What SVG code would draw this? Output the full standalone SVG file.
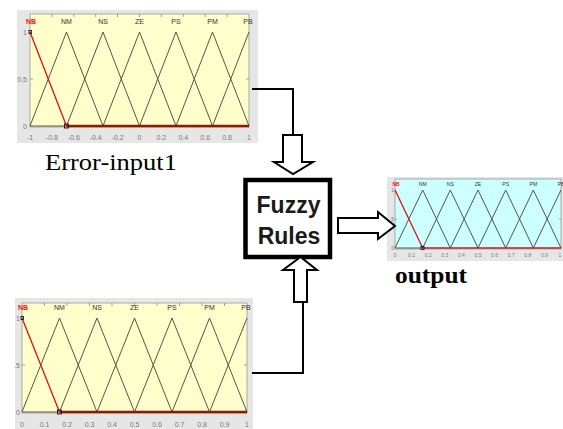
<svg xmlns="http://www.w3.org/2000/svg" width="563" height="429" viewBox="0 0 563 429">
<style>
.frame{fill:#e6e6e6}
.yel{fill:#ffffcc;stroke:#9a9a9a;stroke-width:0.8}
.cyan{fill:#ccffff;stroke:#9a9a9a;stroke-width:0.8}
.mf{fill:none;stroke:#555548;stroke-width:1}
.nb{fill:none;stroke:#e01010;stroke-width:1.3}
.base{stroke:#8b1a00;stroke-width:2.5}
.tk{font-family:"Liberation Sans",Arial,sans-serif;font-size:7px;fill:#7a7a7a;text-anchor:middle}
.tks{font-family:"Liberation Sans",Arial,sans-serif;font-size:5px;fill:#7a7a7a;text-anchor:middle}
.yl{font-family:"Liberation Sans",Arial,sans-serif;font-size:7px;fill:#7a7a7a;text-anchor:end}
.yls{font-family:"Liberation Sans",Arial,sans-serif;font-size:5px;fill:#7a7a7a;text-anchor:end}
.lab{font-family:"Liberation Sans",Arial,sans-serif;font-size:7px;fill:#333;text-anchor:middle}
.labs{font-family:"Liberation Sans",Arial,sans-serif;font-size:5px;fill:#333;text-anchor:middle}
.red{fill:#ff1010;font-weight:bold}
.tick{stroke:#8a8a8a;stroke-width:0.8}
.conn{fill:none;stroke:#000;stroke-width:2}
.harrow{fill:#fff;stroke:#000;stroke-width:2;stroke-linejoin:miter}
.mk{fill:none;stroke:#000;stroke-width:0.8}
</style>

<!-- Top-left plot: Error-input1 -->
<g id="plot-input1">
  <rect class="frame" x="17" y="10" width="241" height="133"/>
  <rect class="yel" x="30" y="14" width="219" height="113"/>
  <g class="tick">
    <line x1="51.9" y1="14" x2="51.9" y2="17"/><line x1="73.8" y1="14" x2="73.8" y2="17"/><line x1="95.7" y1="14" x2="95.7" y2="17"/><line x1="117.6" y1="14" x2="117.6" y2="17"/><line x1="139.5" y1="14" x2="139.5" y2="17"/><line x1="161.4" y1="14" x2="161.4" y2="17"/><line x1="183.3" y1="14" x2="183.3" y2="17"/><line x1="205.2" y1="14" x2="205.2" y2="17"/><line x1="227.1" y1="14" x2="227.1" y2="17"/>
    <line x1="30" y1="79" x2="33" y2="79"/><line x1="246" y1="79" x2="249" y2="79"/>
  </g>
  <text class="lab red" x="31" y="24">NB</text>
  <text class="lab" x="66.5" y="24">NM</text>
  <text class="lab" x="103" y="24">NS</text>
  <text class="lab" x="139.5" y="24">ZE</text>
  <text class="lab" x="176" y="24">PS</text>
  <text class="lab" x="212.5" y="24">PM</text>
  <text class="lab" x="248" y="24">PB</text>
  <polyline class="mf" points="30,126 66.5,32 103,126"/>
  <polyline class="mf" points="66.5,126 103,32 139.5,126"/>
  <polyline class="mf" points="103,126 139.5,32 176,126"/>
  <polyline class="mf" points="139.5,126 176,32 212.5,126"/>
  <polyline class="mf" points="176,126 212.5,32 249,126"/>
  <polyline class="mf" points="212.5,126 249,32"/>
  <line x1="30" y1="126" x2="66.5" y2="126" stroke="#555548" stroke-width="1"/>
  <line class="base" x1="66.5" y1="126" x2="249" y2="126"/>
  <line class="nb" x1="30" y1="32" x2="66.5" y2="126"/>
  <rect class="mk" x="64.5" y="124" width="4" height="4"/>
  <rect class="mk" x="29" y="30.5" width="2.5" height="3"/>
  <text class="yl" x="27" y="35">1</text>
  <text class="yl" x="27" y="82">0.5</text>
  <text class="yl" x="27" y="129">0</text>
  <text class="tk" x="30" y="140">-1</text>
  <text class="tk" x="51.9" y="140">-0.8</text>
  <text class="tk" x="73.8" y="140">-0.6</text>
  <text class="tk" x="95.7" y="140">-0.4</text>
  <text class="tk" x="117.6" y="140">-0.2</text>
  <text class="tk" x="139.5" y="140">0</text>
  <text class="tk" x="161.4" y="140">0.2</text>
  <text class="tk" x="183.3" y="140">0.4</text>
  <text class="tk" x="205.2" y="140">0.6</text>
  <text class="tk" x="227.1" y="140">0.8</text>
  <text class="tk" x="249" y="140">1</text>
</g>
<g id="label-input1">
  <text x="45" y="170" font-family="'Liberation Serif','Times New Roman',serif" font-size="23" textLength="132" lengthAdjust="spacingAndGlyphs" fill="#000">Error-input1</text>
</g>

<!-- Bottom-left plot -->
<g id="plot-input2">
  <rect class="frame" x="15" y="298" width="238" height="131"/>
  <rect class="yel" x="22" y="303" width="225" height="110"/>
  <g class="tick">
    <line x1="44.5" y1="303" x2="44.5" y2="306"/><line x1="67" y1="303" x2="67" y2="306"/><line x1="89.5" y1="303" x2="89.5" y2="306"/><line x1="112" y1="303" x2="112" y2="306"/><line x1="134.5" y1="303" x2="134.5" y2="306"/><line x1="157" y1="303" x2="157" y2="306"/><line x1="179.5" y1="303" x2="179.5" y2="306"/><line x1="202" y1="303" x2="202" y2="306"/><line x1="224.5" y1="303" x2="224.5" y2="306"/>
    <line x1="22" y1="365" x2="25" y2="365"/><line x1="244" y1="365" x2="247" y2="365"/>
  </g>
  <text class="lab red" x="23" y="310">NB</text>
  <text class="lab" x="59.5" y="310">NM</text>
  <text class="lab" x="97" y="310">NS</text>
  <text class="lab" x="134.5" y="310">ZE</text>
  <text class="lab" x="172" y="310">PS</text>
  <text class="lab" x="209.5" y="310">PM</text>
  <text class="lab" x="246" y="310">PB</text>
  <polyline class="mf" points="22,412 59.5,318 97,412"/>
  <polyline class="mf" points="59.5,412 97,318 134.5,412"/>
  <polyline class="mf" points="97,412 134.5,318 172,412"/>
  <polyline class="mf" points="134.5,412 172,318 209.5,412"/>
  <polyline class="mf" points="172,412 209.5,318 247,412"/>
  <polyline class="mf" points="209.5,412 247,318"/>
  <line x1="22" y1="412" x2="59.5" y2="412" stroke="#555548" stroke-width="1"/>
  <line class="base" x1="59.5" y1="412" x2="247" y2="412"/>
  <line class="nb" x1="22" y1="318" x2="59.5" y2="412"/>
  <rect class="mk" x="57.5" y="410" width="4" height="4"/>
  <rect class="mk" x="21" y="316.5" width="2.5" height="3"/>
  <text class="yl" x="20" y="321">1</text>
  <text class="yl" x="20" y="368">.5</text>
  <text class="yl" x="20" y="415">0</text>
  <text class="tk" x="22" y="427">0</text>
  <text class="tk" x="44.5" y="427">0.1</text>
  <text class="tk" x="67" y="427">0.2</text>
  <text class="tk" x="89.5" y="427">0.3</text>
  <text class="tk" x="112" y="427">0.4</text>
  <text class="tk" x="134.5" y="427">0.5</text>
  <text class="tk" x="157" y="427">0.6</text>
  <text class="tk" x="179.5" y="427">0.7</text>
  <text class="tk" x="202" y="427">0.8</text>
  <text class="tk" x="224.5" y="427">0.9</text>
  <text class="tk" x="247" y="427">1</text>
</g>

<!-- Right plot: output -->
<g id="plot-output">
  <rect class="frame" x="387" y="177" width="176" height="84"/>
  <rect class="cyan" x="395" y="179" width="166" height="70"/>
  <g class="tick">
    <line x1="395" y1="219" x2="397" y2="219"/><line x1="559" y1="219" x2="561" y2="219"/>
  </g>
  <text class="labs red" x="396" y="186">NB</text>
  <text class="labs" x="422.7" y="186">NM</text>
  <text class="labs" x="450.3" y="186">NS</text>
  <text class="labs" x="478" y="186">ZE</text>
  <text class="labs" x="505.7" y="186">PS</text>
  <text class="labs" x="533.3" y="186">PM</text>
  <text class="labs" x="561" y="186">PB</text>
  <polyline class="mf" points="395,248 422.7,190 450.3,248"/>
  <polyline class="mf" points="422.7,248 450.3,190 478,248"/>
  <polyline class="mf" points="450.3,248 478,190 505.7,248"/>
  <polyline class="mf" points="478,248 505.7,190 533.3,248"/>
  <polyline class="mf" points="505.7,248 533.3,190 561,248"/>
  <polyline class="mf" points="533.3,248 561,190"/>
  <line x1="395" y1="248" x2="422.7" y2="248" stroke="#555548" stroke-width="1"/>
  <line x1="422.7" y1="248" x2="561" y2="248" stroke="#c81a10" stroke-width="1.6"/>
  <line class="nb" x1="395" y1="190" x2="422.7" y2="248"/>
  <rect class="mk" x="421" y="246.5" width="3" height="3"/>
  <text class="yls" x="394" y="192">1</text>
  <text class="yls" x="394" y="221">5</text>
  <text class="yls" x="394" y="250">0</text>
  <text class="tks" x="395" y="257">0</text>
  <text class="tks" x="411.6" y="257">0.1</text>
  <text class="tks" x="428.2" y="257">0.2</text>
  <text class="tks" x="444.8" y="257">0.3</text>
  <text class="tks" x="461.4" y="257">0.4</text>
  <text class="tks" x="478" y="257">0.5</text>
  <text class="tks" x="494.6" y="257">0.6</text>
  <text class="tks" x="511.2" y="257">0.7</text>
  <text class="tks" x="527.8" y="257">0.8</text>
  <text class="tks" x="544.4" y="257">0.9</text>
  <text class="tks" x="560" y="257">1</text>
</g>
<g id="label-output">
  <text x="395" y="283" font-family="'Liberation Serif','Times New Roman',serif" font-size="24" font-weight="bold" textLength="72" lengthAdjust="spacingAndGlyphs" fill="#000">output</text>
</g>

<!-- Fuzzy Rules box -->
<g id="fuzzy-rules">
  <rect x="245.5" y="180" width="84.5" height="77" fill="#fff" stroke="#000" stroke-width="4.5"/>
  <text x="288.5" y="213" font-family="'Liberation Sans',Arial,sans-serif" font-size="23" font-weight="bold" text-anchor="middle" fill="#1a1a1a">Fuzzy</text>
  <text x="289" y="244" font-family="'Liberation Sans',Arial,sans-serif" font-size="23" font-weight="bold" text-anchor="middle" fill="#1a1a1a">Rules</text>
</g>

<!-- Connectors -->
<g id="connectors">
  <polyline class="conn" points="252,89 293,89 293,135"/>
  <polygon class="harrow" points="283,135 302,135 302,162 313,162 293,174 274,162 283,162"/>
  <polyline class="conn" points="252,373 303,373 303,302"/>
  <polygon class="harrow" points="294,302 307,302 307,270 317,270 300.5,257 283,270 294,270"/>
  <polygon class="harrow" points="338,218 378,218 378,212 395,226 378,239 378,233 338,233"/>
</g>
</svg>
